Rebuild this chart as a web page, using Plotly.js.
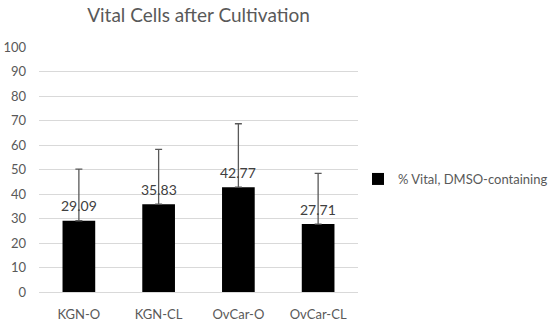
<!DOCTYPE html>
<html>
<head>
<meta charset="utf-8">
<script src="https://cdn.plot.ly/plotly-3.0.1.min.js"></script>
<style>html,body{margin:0;padding:0;background:#fff;}#chart{width:550px;height:321px;}</style>
</head>
<body>
<div id="chart"></div>
<script>
const categories = ["KGN-O", "KGN-CL", "OvCar-O", "OvCar-CL"];
const vitalValues = [29.09, 35.83, 42.77, 27.71];
const errorPlus = [21.1, 22.4, 25.9, 20.7];
const seriesName = "% Vital, DMSO-containing";
const yTicks = [0, 10, 20, 30, 40, 50, 60, 70, 80, 90, 100];

const FONT = "Lato, 'Open Sans', sans-serif";

const trace = {
  type: "bar",
  x: categories,
  y: vitalValues,
  name: seriesName,
  width: 0.41,
  marker: {color: "#000000"},
  error_y: {
    type: "data",
    symmetric: false,
    array: errorPlus,
    arrayminus: vitalValues.map(() => 0),
    color: "#595959",
    thickness: 1.3,
    width: 3.5
  },
  showlegend: true
};

const annotations = categories.map((c, i) => ({
  x: c, y: vitalValues[i], xref: "x", yref: "y",
  text: vitalValues[i].toFixed(2),
  showarrow: false, yanchor: "middle", yshift: 15,
  font: {family: FONT, size: 14, color: "#404040"}
}));

const layout = {
  width: 550, height: 321,
  paper_bgcolor: "#ffffff", plot_bgcolor: "#ffffff",
  margin: {l: 39, r: 189, t: 47, b: 29},
  title: {
    text: "Vital Cells after Cultivation",
    font: {family: FONT, size: 19, color: "#595959"},
    x: 0.5, xanchor: "center", xref: "paper",
    y: 1 - 15/321, yanchor: "middle", yref: "container"
  },
  xaxis: {
    showgrid: false, showline: true, linecolor: "#d9d9d9", linewidth: 1,
    ticks: "", ticklabelstandoff: 10,
    tickfont: {family: FONT, size: 13, color: "#595959"},
    zeroline: false, fixedrange: true
  },
  yaxis: {
    range: [0, 100], tickvals: yTicks, ticktext: yTicks.map(String),
    showgrid: true, gridcolor: "#d9d9d9", gridwidth: 1,
    zeroline: false, showline: false, ticks: "", ticklabelstandoff: 12,
    tickfont: {family: FONT, size: 13, color: "#595959"},
    fixedrange: true
  },
  showlegend: true,
  legend: {
    xref: "container", yref: "container",
    x: 358/550, y: 1 - 179/321, xanchor: "left", yanchor: "middle",
    font: {family: FONT, size: 13, color: "#595959"},
    bgcolor: "rgba(0,0,0,0)", borderwidth: 0
  },
  annotations: annotations,
  bargap: 0.59
};

Plotly.newPlot("chart", [trace], layout, {displayModeBar: false, staticPlot: true});
</script>
</body>
</html>
